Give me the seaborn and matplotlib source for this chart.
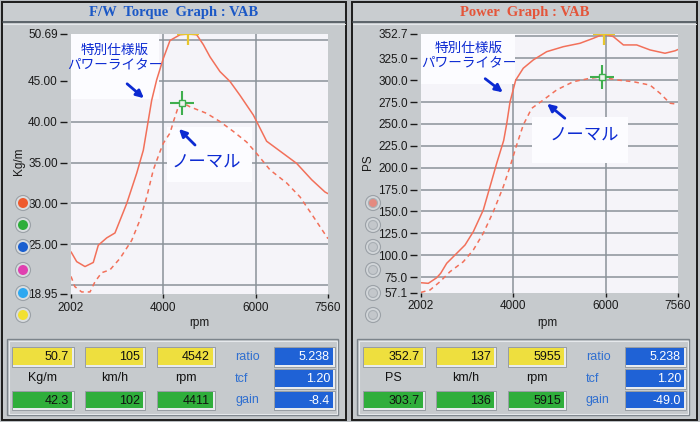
import numpy as np
import pandas as pd
import matplotlib
matplotlib.use("Agg")
import matplotlib.pyplot as plt
import seaborn as sns
from matplotlib.transforms import Affine2D
from matplotlib.patches import Rectangle, Circle, FancyArrowPatch
from matplotlib.lines import Line2D

# ---------------- data ----------------
tq_tuned_rpm = [2002, 2125, 2305, 2484, 2592, 2774, 2953, 3207, 3423, 3566, 3640, 3747, 3855,
                3998, 4143, 4360, 4542, 4720, 4863, 5008, 5224, 5440, 5657, 5945, 6233, 6593,
                6881, 7207, 7495, 7560]
tq_tuned = [24.1, 22.9, 22.3, 22.8, 24.9, 25.8, 26.4, 30.0, 33.7, 36.5, 39.0, 42.6, 45.1,
            47.7, 49.9, 50.6, 50.69, 50.6, 49.4, 47.9, 46.1, 44.9, 43.2, 40.8, 37.6, 36.1,
            34.9, 32.9, 31.4, 31.2]
tq_normal_rpm = [2002, 2085, 2233, 2413, 2521, 2665, 2845, 3062, 3315, 3494, 3640, 3782, 3911,
                 3998, 4143, 4229, 4322, 4411, 4576, 4937, 5224, 5512, 5800, 6018, 6306, 6667,
                 6955, 7242, 7560]
tq_normal = [21.1, 19.85, 19.2, 19.2, 20.45, 21.55, 21.9, 23.3, 25.5, 28.0, 30.8, 34.1, 36.1,
             37.35, 38.6, 40.2, 41.8, 42.3, 41.8, 41.0, 40.0, 38.8, 37.5, 36.1, 34.1, 32.5,
             30.8, 28.4, 25.7]
ps_tuned_rpm = [2002, 2160, 2341, 2428, 2558, 2774, 2954, 3133, 3349, 3494, 3639, 3790, 3855,
                3927, 4050, 4214, 4431, 4720, 5080, 5441, 5729, 5955, 6162, 6379, 6667, 6955,
                7279, 7495, 7560]
ps_tuned = [68.5, 67.8, 74.2, 79.3, 90.7, 102.1, 111.6, 126.8, 151.6, 178.2, 205.0, 231.0, 250.0,
            275.0, 300.0, 313.6, 323.1, 332.5, 338.2, 342.1, 347.8, 352.7, 349.7, 340.2, 340.2,
            334.5, 330.7, 333.5, 335.0]
ps_normal_rpm = [2002, 2197, 2413, 2629, 2917, 3133, 3349, 3566, 3782, 3927, 4071, 4214, 4396,
                 4647, 4936, 5296, 5657, 5915, 6234, 6594, 6955, 7171, 7387, 7560]
ps_normal = [57.5, 60.2, 69.7, 81.1, 92.5, 105.9, 125.0, 149.7, 178.2, 201.1, 225.9, 248.8,
             267.8, 277.3, 288.8, 298.2, 302.1, 303.7, 300.2, 298.2, 294.3, 285.0, 273.6, 272.4]

x_ticks = [2002, 4000, 6000, 7560]
tq_ticks = [18.95, 25, 30, 35, 40, 45, 50.69]
tq_tick_labels = ["18.95", "25.00", "30.00", "35.00", "40.00", "45.00", "50.69"]
ps_ticks = [57.1, 75, 100, 125, 150, 175, 200, 225, 250, 275, 300, 325, 352.7]
ps_tick_labels = ["57.1", "75.0", "100.0", "125.0", "150.0", "175.0", "200.0", "225.0",
                  "250.0", "275.0", "300.0", "325.0", "352.7"]
tq_grid = [20, 25, 30, 35, 40, 45, 50]
ps_grid = [75, 100, 125, 150, 175, 200, 225, 250, 275, 300, 325, 350]
x_grid = [4000, 6000]

tq_peak = (4542, 50.69)
tq_normal_peak = (4411, 42.3)
ps_peak = (5955, 352.7)
ps_normal_peak = (5915, 303.7)

tq_top_vals = ["50.7", "105", "4542"]
tq_bot_vals = ["42.3", "102", "4411"]
tq_units = ["Kg/m", "km/h", "rpm"]
tq_side = ["5.238", "1.20", "-8.4"]
ps_top_vals = ["352.7", "137", "5955"]
ps_bot_vals = ["303.7", "136", "5915"]
ps_units = ["PS", "km/h", "rpm"]
ps_side = ["5.238", "1.20", "-49.0"]
side_names = ["ratio", "tcf", "gain"]

label_tuned = "特別仕様版\nパワーライター"
label_normal = "ノーマル"

# ---------------- style ----------------
sns.set_style("white")
plt.rcParams["font.family"] = ["Liberation Sans", "DejaVu Sans"]
JP = ["Noto Sans CJK JP", "DejaVu Sans"]

W, H = 700, 422
fig = plt.figure(figsize=(7, 4.22), dpi=100)
fig.patch.set_facecolor("#b9bdc1")
P = Affine2D().scale(1 / W, -1 / H).translate(0, 1) + fig.transFigure

PANEL = "#c6cacd"
PLOTBG = "#f5f4f9"
GRID = "#8a9299"
CURVE = "#f2705a"
ANNO = "#0c2ad2"


def frect(x0, y0, x1, y1, fc, ec="none", lw=0.0, z=-1, target=None):
    r = Rectangle((x0, y0), x1 - x0, y1 - y0, transform=P, facecolor=fc,
                  edgecolor=ec, linewidth=lw, zorder=z, clip_on=False)
    (target or fig).add_artist(r)
    return r


def fline(xs, ys, color, lw=1.0, z=-1):
    fig.add_artist(Line2D(xs, ys, transform=P, color=color, lw=lw, zorder=z))


def ftext(x, y, s, **kw):
    kw.setdefault("ha", "center")
    kw.setdefault("va", "center")
    return fig.text(x, y, s, transform=P, **kw)


def panel(x0, x1, title, tcolor):
    frect(x0, 2, x1, 420, PANEL, ec="#1c1c1c", lw=1.4, z=-2)
    frect(x0 + 2, 3, x1 - 2, 21, "#c9cdd0", z=-1.5)
    fline([x0 + 1, x1 - 1], [22, 22], "#4a5259", lw=1.2, z=-1)
    fline([x0 + 1, x1 - 1], [23.5, 23.5], "#e4e7ea", lw=0.8, z=-1)
    ftext((x0 + x1) / 2, 12.5, title, color=tcolor, fontsize=10.5,
          family="Liberation Serif", weight="bold")
    frect(x0 + 5, 339, x1 - 8, 415, "none", ec="#7c848b", lw=1.0, z=-1)
    frect(x0 + 6.5, 340.5, x1 - 9.5, 413.5, "none", ec="#e6e9ec", lw=0.8, z=-1)


panel(2, 346, "F/W  Torque  Graph : VAB", "#1b58c6")
panel(352, 697, "Power  Graph : VAB", "#e4553a")


def make_axes(x0, x1, ytop, ybot):
    ax = fig.add_axes([x0 / W, 1 - ybot / H, (x1 - x0) / W, (ybot - ytop) / H])
    ax.set_facecolor(PLOTBG)
    for s in ax.spines.values():
        s.set_visible(False)
    ax.spines["left"].set_position(("outward", 3))
    ax.xaxis.remove_overlapping_locs = False
    ax.yaxis.remove_overlapping_locs = False
    return ax


def style_axes(ax, yt, ylabels, ygrid):
    ax.set_xticks(x_ticks)
    ax.set_xticklabels([str(v) for v in x_ticks])
    ax.set_yticks(yt)
    ax.set_yticklabels(ylabels)
    ax.set_xticks(x_grid, minor=True)
    ax.set_yticks(ygrid, minor=True)
    ax.grid(False, which="major")
    ax.grid(True, which="minor", color=GRID, lw=1.1)
    ax.set_axisbelow(True)
    ax.tick_params(which="minor", length=0)
    ax.tick_params(axis="y", which="major", length=5, width=1, pad=1.5,
                   labelsize=8.5, colors="#1a1a1a", left=True)
    ax.tick_params(axis="x", which="major", length=3, width=1, pad=2.5,
                   labelsize=8.5, colors="#1a1a1a", bottom=True)
    ax.set_xlabel("")
    ax.set_ylabel("")


def add_curves(ax, rpm_a, val_a, rpm_b, val_b):
    da = pd.DataFrame({"rpm": rpm_a, "v": val_a})
    db = pd.DataFrame({"rpm": rpm_b, "v": val_b})
    sns.lineplot(data=da, x="rpm", y="v", ax=ax, color=CURVE, lw=1.1, zorder=3)
    sns.lineplot(data=db, x="rpm", y="v", ax=ax, color=CURVE, lw=1.1,
                 linestyle=(0, (3, 2.6)), zorder=3)


def crosshairs(ax, top, normal):
    ax.plot([top[0]], [top[1]], marker="+", ms=16, mew=1.6, color="#e8c62c", zorder=5)
    ax.plot([normal[0]], [normal[1]], marker="+", ms=17, mew=1.5, color="#3fae4e", zorder=5)
    ax.plot([normal[0]], [normal[1]], marker="s", ms=4.5, mew=1.0, mfc="#eef3ee",
            mec="#3fae4e", zorder=6)


def arrow(ax, x0, y0, x1, y1):
    a = FancyArrowPatch((x0, y0), (x1, y1), transform=P, arrowstyle="-|>",
                        mutation_scale=11, color=ANNO, lw=2.0, zorder=7, clip_on=False)
    ax.add_artist(a)


# ---------- left: torque ----------
axL = make_axes(71, 328, 34, 294)
axL.set_xlim(2002, 7560)
axL.set_ylim(18.95, 50.69)
add_curves(axL, tq_tuned_rpm, tq_tuned, tq_normal_rpm, tq_normal)
style_axes(axL, tq_ticks, tq_tick_labels, tq_grid)
crosshairs(axL, tq_peak, tq_normal_peak)
frect(71, 34, 159, 99, "#fcfcff", z=1.5, target=axL)
frect(167, 127, 252, 182, "#fcfcff", z=1.5, target=axL)
ftext(115, 57, label_tuned, color=ANNO, fontsize=9.8, family=JP, linespacing=1.05)
ftext(206, 162, label_normal, color=ANNO, fontsize=12.5, family=JP)
arrow(axL, 125, 82, 146, 100)
arrow(axL, 197, 147, 177, 127)

# ---------- right: power ----------
axR = make_axes(421, 678, 34, 292.7)
axR.set_xlim(2002, 7560)
axR.set_ylim(57.1, 352.7)
add_curves(axR, ps_tuned_rpm, ps_tuned, ps_normal_rpm, ps_normal)
style_axes(axR, ps_ticks, ps_tick_labels, ps_grid)
crosshairs(axR, ps_peak, ps_normal_peak)
frect(421, 34, 515, 84, "#fcfcff", z=1.5, target=axR)
frect(532, 117, 628, 163, "#fcfcff", z=1.5, target=axR)
ftext(468.5, 55.5, label_tuned, color=ANNO, fontsize=9.8, family=JP, linespacing=1.05)
ftext(584, 135, label_normal, color=ANNO, fontsize=12.5, family=JP)
arrow(axR, 483, 77, 505, 94)
arrow(axR, 567, 120, 545, 102)

# axis labels
ftext(19, 161, "Kg/m", rotation=90, fontsize=8.5, color="#1a1a1a")
ftext(368, 162, "PS", rotation=90, fontsize=8.5, color="#1a1a1a")
ftext(199, 323, "rpm", fontsize=8.5, color="#1a1a1a")
ftext(547, 323, "rpm", fontsize=8.5, color="#1a1a1a")

# legend buttons
dot_colors = ["#ee5a2e", "#2eae3a", "#1a5fd0", "#e040b0", "#2ea8f0", "#f2e030"]
dot_ys = [203, 225, 247, 270, 293, 315]
for c, y in zip(dot_colors, dot_ys):
    fig.add_artist(Circle((23, y), 7.5, transform=P, fc="#d9dde0", ec="#9ba1a7", lw=0.8, zorder=1))
    fig.add_artist(Circle((23, y), 5.0, transform=P, fc=c, ec="none", zorder=1.1))
for i, y in enumerate(dot_ys):
    fig.add_artist(Circle((373, y), 7.5, transform=P, fc="#d2d6d9", ec="#9ba1a7", lw=0.8, zorder=1))
    fig.add_artist(Circle((373, y), 4.5, transform=P, fc="#e48a80" if i == 0 else "#c3c7cb",
                          ec="#a9afb5", lw=0.8, zorder=1.1))

# value boxes
box_x = [(13, 72), (86, 143), (158, 213)]
side_x = (275, 333)
rows_y = [(348, 365), (370, 387), (392, 408)]


def value_area(off, top_vals, bot_vals, units, side_vals):
    for (xa, xb), tv, bv, u in zip(box_x, top_vals, bot_vals, units):
        xa += off
        xb += off
        frect(xa - 1.5, rows_y[0][0] - 1.5, xb + 1.5, rows_y[0][1] + 1.5, "#e8ebee", ec="#8c9399", lw=0.6, z=1)
        frect(xa, rows_y[0][0], xb, rows_y[0][1], "#eedf3e", z=1.1)
        ftext(xb - 3, (rows_y[0][0] + rows_y[0][1]) / 2 + 0.5, tv, ha="right", fontsize=9, color="#111111")
        frect(xa - 1.5, rows_y[2][0] - 1.5, xb + 1.5, rows_y[2][1] + 1.5, "#e8ebee", ec="#8c9399", lw=0.6, z=1)
        frect(xa, rows_y[2][0], xb, rows_y[2][1], "#2fae3b", z=1.1)
        ftext(xb - 3, (rows_y[2][0] + rows_y[2][1]) / 2 + 0.5, bv, ha="right", fontsize=9, color="#111111")
        ftext((xa + xb) / 2, 378, u, fontsize=9, color="#111111")
    for (ya, yb), name, sv in zip(rows_y, side_names, side_vals):
        xa, xb = side_x[0] + off, side_x[1] + off
        frect(xa - 1.5, ya - 1.5, xb + 1.5, yb + 1.5, "#e8ebee", ec="#8c9399", lw=0.6, z=1)
        frect(xa, ya, xb, yb, "#1f62d6", z=1.1)
        ftext(xb - 3, (ya + yb) / 2 + 0.5, sv, ha="right", fontsize=9, color="#ffffff")
        ftext(235 + off, (ya + yb) / 2 + 0.5, name, ha="left", fontsize=9, color="#2f6fd0")


value_area(0, tq_top_vals, tq_bot_vals, tq_units, tq_side)
value_area(351, ps_top_vals, ps_bot_vals, ps_units, ps_side)

fig.savefig("out.png", dpi=100, facecolor=fig.get_facecolor())
